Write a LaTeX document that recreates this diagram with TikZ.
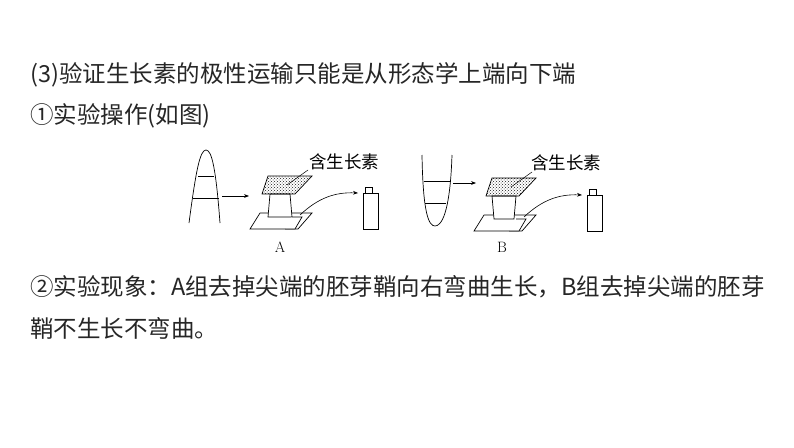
\documentclass[tikz,border=0pt]{standalone}
\usepackage{fontspec}
\newfontfamily\cjk{Noto Sans CJK SC}
\usetikzlibrary{arrows.meta, positioning, patterns}
\begin{document}
\begin{tikzpicture}[x=1pt,y=-1pt,
    every node/.style={font=\cjk},
    body/.style={text=black!85,font=\cjk\fontsize{23.5}{28}\selectfont,anchor=west,inner sep=0pt},
    part/.style={draw,line width=0.7pt,fill=white},
    agar/.style={draw,line width=0.7pt,pattern=crosshatch dots,pattern color=black!90},
    tag/.style={font=\cjk\fontsize{17.5}{20}\selectfont,inner sep=0pt},
    arr/.style={-{Stealth[length=5pt]},line width=0.6pt}
  ]
  \useasboundingbox (0,0) rectangle (794,447);
  % text lines
  \node[body] (t1) at (30,75) {(3)验证生长素的极性运输只能是从形态学上端向下端};
  \node[body] (t2) at (30,116) {①实验操作(如图)};
  \node[body] (t3) at (30,287) {②实验现象：A组去掉尖端的胚芽鞘向右弯曲生长，B组去掉尖端的胚芽};
  \node[body] (t4) at (30,328) {鞘不生长不弯曲。};

  % coleoptile A (upright)
  \draw[line width=0.7pt] (189,223) .. controls (196,170) and (200,150) .. (206,150)
      .. controls (212,150) and (216,170) .. (220,223);
  \draw[line width=0.7pt] (198,176) -- (214,176) (193,198) -- (219,198);
  \coordinate (a0) at (222,196);
  % coleoptile B (inverted)
  \draw[line width=0.7pt] (422,155) .. controls (423,215) and (429,226) .. (435,226)
      .. controls (441,226) and (450,215) .. (452,155);
  \draw[line width=0.7pt] (424,181) -- (450,181) (425,203) -- (446,203);
  \coordinate (b0) at (453,183);

  % apparatus A
  \draw[part] (250,229) -- (298,229) -- (312,213) -- (260,213) -- cycle;
  \draw[part] (268,217) -- (292,217) -- (290,194) -- (270,194) -- cycle;
  \draw[part] (285,229) -- (295,229) -- (302,217) -- (292,217);
  \draw[agar] (262,194) -- (295,194) -- (312,176) -- (268,176) -- cycle;
  \draw[line width=0.5pt] (287,185) -- (308,170);
  \node[tag] (lA) at (344,162) {含生长素};
  \draw[part] (363,193) rectangle (378,229);
  \draw[part] (365,187) rectangle (372,193);
  \coordinate (a1) at (300,215);
  \coordinate (a2) at (358,193);
  \draw[arr] (a1) .. controls (318,198) and (335,192) .. (a2);
  \node[font=\fontsize{15}{17}\selectfont] (nA) at (280,247) {A};
  \coordinate (a3) at (249,196);
  \draw[arr] (a0) -- (a3);

  % apparatus B
  \begin{scope}[shift={(224,2)}]
    \draw[part] (250,229) -- (298,229) -- (312,213) -- (260,213) -- cycle;
    \draw[part] (270,217) -- (290,217) -- (292,194) -- (268,194) -- cycle;
    \draw[part] (285,229) -- (295,229) -- (302,217) -- (292,217);
    \draw[agar] (262,194) -- (295,194) -- (312,176) -- (268,176) -- cycle;
    \draw[line width=0.5pt] (287,185) -- (308,170);
    \node[tag] (lB) at (342,161) {含生长素};
    \draw[part] (363,193) rectangle (378,229);
    \draw[part] (365,187) rectangle (372,193);
    \coordinate (b1) at (300,215);
    \coordinate (b2) at (358,193);
    \draw[arr] (b1) .. controls (318,198) and (335,192) .. (b2);
    \node[font=\fontsize{15}{17}\selectfont] (nB) at (278,245) {B};
  \end{scope}
  \coordinate (b3) at (476,183);
  \draw[arr] (b0) -- (b3);
\end{tikzpicture}
\end{document}
